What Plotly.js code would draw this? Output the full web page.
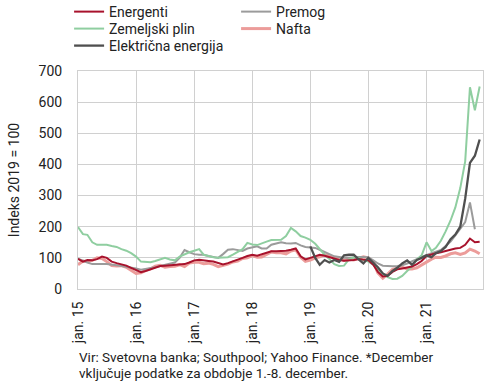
<!DOCTYPE html>
<html><head><meta charset="utf-8">
<script src="https://cdn.plot.ly/plotly-3.0.1.min.js"></script>
<style>html,body{margin:0;padding:0;background:#fff}#chart{width:490px;height:382px}</style>
</head><body><div id="chart"></div>
<script>
const years = [2015, 2016, 2017, 2018, 2019, 2020, 2021];
const tickLabels = ['jan. 15', 'jan. 16', 'jan. 17', 'jan. 18', 'jan. 19', 'jan. 20', 'jan. 21'];

// Monthly index values, 2019 = 100 (Jan 2015 – Dec 2021)
const energenti = [
  97, 88, 93, 92, 96, 104, 100, 88, 83, 80, 75, 68,
  60, 54, 58, 63, 70, 74, 75, 76, 78, 78, 80, 85,
  92, 94, 91, 90, 88, 84, 79, 83, 88, 94, 100, 106,
  110, 107, 112, 118, 121, 121, 121, 123, 126, 130, 105, 95,
  100, 106, 110, 107, 102, 96, 93, 91, 91, 93, 96, 95,
  92, 78, 55, 40, 42, 55, 63, 66, 68, 72, 80, 90,
  106, 112, 115, 118, 122, 128, 130, 132, 142, 162, 150, 152
];
const premog = [
  97, 90, 85, 80, 79, 80, 80, 79, 76, 74, 72, 70,
  66, 62, 64, 66, 70, 74, 77, 80, 85, 100, 125, 118,
  112, 110, 110, 106, 102, 100, 112, 126, 128, 124, 122, 130,
  134, 137, 130, 130, 142, 146, 150, 147, 146, 148, 140, 135,
  133, 132, 126, 118, 112, 105, 102, 100, 100, 102, 103, 103,
  102, 92, 82, 75, 73, 73, 74, 76, 82, 88, 96, 103,
  108, 115, 120, 125, 138, 152, 172, 194, 215, 278, 192, null
];
const zemeljskiPlin = [
  199, 176, 174, 150, 142, 142, 142, 138, 135, 128, 123, 115,
  104, 88, 86, 86, 90, 96, 100, 95, 92, 104, 112, 118,
  123, 128, 110, 105, 102, 100, 100, 102, 110, 120, 128, 148,
  143, 141, 147, 152, 157, 158, 158, 170, 196, 185, 170, 165,
  158, 145, 127, 110, 96, 80, 74, 75, 95, 102, 100, 92,
  88, 78, 62, 48, 38, 32, 33, 42, 58, 72, 95, 108,
  150, 122, 132, 155, 185, 220, 262, 324, 410, 648, 574, 650
];
const nafta = [
  78, 90, 88, 92, 100, 98, 88, 75, 74, 75, 70, 60,
  50, 52, 60, 65, 73, 76, 70, 72, 73, 78, 72, 83,
  86, 86, 81, 83, 79, 72, 76, 80, 87, 90, 98, 100,
  107, 102, 103, 112, 119, 116, 116, 113, 122, 126, 102, 89,
  93, 100, 103, 110, 108, 100, 100, 92, 97, 93, 98, 103,
  100, 86, 52, 35, 48, 63, 67, 70, 64, 64, 68, 78,
  86, 96, 102, 101, 106, 113, 116, 111, 116, 128, 122, 113
];
// Electricity starts in January 2019
const elektricnaEnergija = [
  137, 100, 78, 93, 85, 93, 87, 108, 110, 110, 95, 82,
  100, 85, 70, 50, 42, 58, 68, 82, 92, 78, 93, 100,
  108, 102, 115, 122, 135, 160, 175, 200, 290, 405, 428, 480
];

const months = [];
years.forEach(y => { for (let m = 1; m <= 12; m++) months.push(y + '-' + String(m).padStart(2, '0') + '-01'); });
const tickVals = years.map(y => y + '-01-01');
const elMonths = months.slice(months.length - elektricnaEnergija.length);

const FONT = 'Roboto, sans-serif';
const TXT = '#222222';

function tr(name, x, y, color, width, rank, legend) {
  return {type: 'scatter', mode: 'lines', name: name, x: x, y: y,
    line: {color: color, width: width}, legendrank: rank, legend: legend,
    connectgaps: false, hoverinfo: 'skip'};
}

const data = [
  tr('Nafta', months, nafta, '#ec9c9a', 3, 4, 'legend2'),
  tr('Premog', months, premog, '#9b9b9b', 2, 2, 'legend'),
  tr('Zemeljski plin', months, zemeljskiPlin, '#8fcea0', 2, 3, 'legend2'),
  tr('Energenti', months, energenti, '#a8122c', 2, 1, 'legend'),
  tr('Električna energija', elMonths, elektricnaEnergija, '#4f4f4f', 2.3, 5, 'legend3')
];

function leg(yc) {
  return {orientation: 'h', x: -0.022, xanchor: 'left', y: yc, yanchor: 'middle',
    entrywidth: 122, entrywidthmode: 'pixels', itemwidth: 30,
    font: {family: FONT, size: 14, color: TXT}, bgcolor: 'rgba(0,0,0,0)', traceorder: 'normal'};
}

const layout = {
  width: 490, height: 382,
  margin: {l: 78, r: 7, t: 71, b: 93, autoexpand: false},
  paper_bgcolor: '#ffffff', plot_bgcolor: '#ffffff',
  font: {family: FONT, size: 13, color: TXT},
  showlegend: true,
  legend: leg(1.2706),
  legend2: leg(1.1927),
  legend3: leg(1.1147),
  xaxis: {
    type: 'date', range: ['2015-01-01', '2021-12-22'],
    tickvals: tickVals, ticktext: tickLabels, tickangle: -90,
    tickfont: {family: FONT, size: 14, color: TXT},
    ticks: '', ticklabelstandoff: 6,
    showgrid: true, gridcolor: '#d0d0d0', gridwidth: 1,
    showline: true, linecolor: '#d0d0d0', linewidth: 1, mirror: true,
    zeroline: false, fixedrange: true
  },
  yaxis: {
    range: [0, 700], dtick: 100, tick0: 0,
    tickfont: {family: FONT, size: 14, color: TXT},
    ticks: '', ticklabelstandoff: 12,
    showgrid: true, gridcolor: '#d0d0d0', gridwidth: 1,
    showline: true, linecolor: '#d0d0d0', linewidth: 1, mirror: true,
    zeroline: false, fixedrange: true,
    title: {text: 'Indeks 2019 = 100', font: {family: FONT, size: 14, color: TXT}, standoff: 15}
  },
  annotations: [
    {xref: 'paper', yref: 'paper', x: 0, y: -0.3119, xanchor: 'left', yanchor: 'middle',
     text: 'Vir: Svetovna banka; Southpool; Yahoo Finance. *December', showarrow: false,
     font: {family: FONT, size: 13.5, color: TXT}, borderpad: 0},
    {xref: 'paper', yref: 'paper', x: 0, y: -0.3876, xanchor: 'left', yanchor: 'middle',
     text: 'vključuje podatke za obdobje 1.-8. december.', showarrow: false,
     font: {family: FONT, size: 13.5, color: TXT}, borderpad: 0}
  ]
};

Plotly.newPlot('chart', data, layout, {displayModeBar: false, staticPlot: true});
</script>
</body></html>
